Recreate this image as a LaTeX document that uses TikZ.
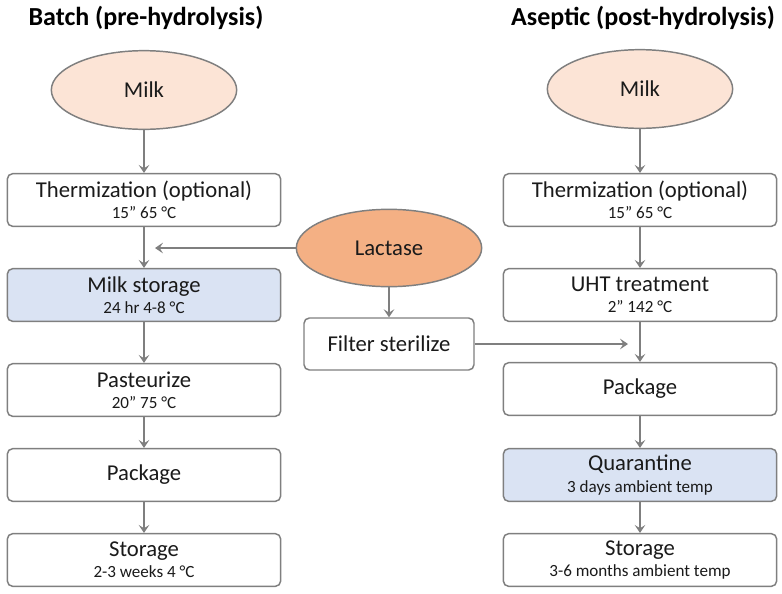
\documentclass[tikz,border=0pt]{standalone}
\usepackage{fontspec}
\setmainfont{Carlito}
\usetikzlibrary{shapes.geometric,arrows.meta}

\definecolor{milkfill}{HTML}{FCE4D6}
\definecolor{lactfill}{HTML}{F4B084}
\definecolor{storefill}{HTML}{DAE3F3}
\definecolor{edgegray}{HTML}{7F7F7F}
\definecolor{txt}{HTML}{1A1A1A}

\newcommand{\subtxt}[1]{{\fontsize{12.8}{14}\selectfont #1}}

\tikzset{
  stepbox/.style={draw=edgegray,line width=1.1pt,rounded corners=4pt,fill=white,
    minimum width=205pt,minimum height=39.5pt,inner sep=0pt,align=center,
    text=txt,font=\fontsize{17}{17}\selectfont},
  source/.style={ellipse,draw=edgegray,line width=1.1pt,fill=milkfill,
    minimum width=139pt,minimum height=59pt,inner sep=0pt,
    text=txt,font=\fontsize{17}{17}\selectfont},
  flow/.style={draw=edgegray,line width=1.1pt,-{Stealth[length=6pt,width=8pt,inset=2.5pt]}},
  title/.style={font=\fontsize{19.5}{19.5}\selectfont\bfseries,text=black}
}

\begin{document}
\begin{tikzpicture}[x=0.75pt,y=-0.75pt]
    \useasboundingbox (0,0) rectangle (782,593);

    % titles
    \node[title] (tbatch) at (146,18) {Batch (pre-hydrolysis)};
    \node[title] (taseptic) at (643,18) {Aseptic (post-hydrolysis)};

    % batch column
    \node[source] (lmilk) at (144,90) {Milk};
    \node[stepbox] (lthermo) at (144,200) {Thermization (optional)\\[-1pt]\subtxt{15” 65 °C}};
    \node[stepbox,fill=storefill] (lstore) at (144,295) {Milk storage\\[-1pt]\subtxt{24 hr 4-8 °C}};
    \node[stepbox] (lpast) at (144,390) {Pasteurize\\[-1pt]\subtxt{20” 75 °C}};
    \node[stepbox] (lpack) at (144,475) {Package};
    \node[stepbox] (lfinal) at (144,560) {Storage\\[-1pt]\subtxt{2-3 weeks 4 °C}};

    % aseptic column
    \node[source] (rmilk) at (640,89) {Milk};
    \node[stepbox] (rthermo) at (640,200) {Thermization (optional)\\[-1pt]\subtxt{15” 65 °C}};
    \node[stepbox] (ruht) at (640,295) {UHT treatment\\[-1pt]\subtxt{2” 142 °C}};
    \node[stepbox] (rpack) at (640,389) {Package};
    \node[stepbox,fill=storefill] (rquar) at (640,475) {Quarantine\\[-1pt]\subtxt{3 days ambient temp}};
    \node[stepbox] (rfinal) at (640,560) {Storage\\[-1pt]\subtxt{3-6 months ambient temp}};

    % enzyme
    \node[source,fill=lactfill,minimum height=58pt] (lactase) at (389,248) {Lactase};
    \node[stepbox,minimum width=127.5pt,minimum height=39pt] (filter) at (389,344) {Filter sterilize};
    \coordinate (lin) at (155,248);
    \coordinate (rin) at (628,344);

    % arrows
    \draw[flow] (lmilk) -- (lthermo);
    \draw[flow] (lthermo) -- (lstore);
    \draw[flow] (lstore) -- (lpast);
    \draw[flow] (lpast) -- (lpack);
    \draw[flow] (lpack) -- (lfinal);
    \draw[flow] (rmilk) -- (rthermo);
    \draw[flow] (rthermo) -- (ruht);
    \draw[flow] (ruht) -- (rpack);
    \draw[flow] (rpack) -- (rquar);
    \draw[flow] (rquar) -- (rfinal);
    \draw[flow] (lactase) -- (filter);
    \draw[flow] (lactase.west) -- (lin);
    \draw[flow] (filter.east) -- (rin);
\end{tikzpicture}
\end{document}
